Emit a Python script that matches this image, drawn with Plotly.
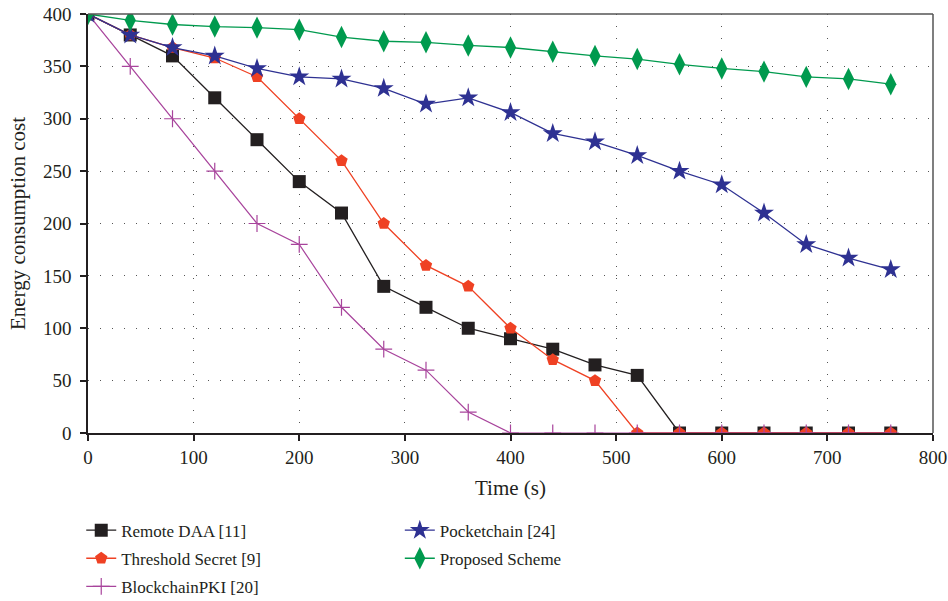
import plotly.graph_objects as go

time_s = [0, 40, 80, 120, 160, 200, 240, 280, 320, 360, 400, 440, 480, 520, 560, 600, 640, 680, 720, 760]

remote_daa = [400, 380, 360, 320, 280, 240, 210, 140, 120, 100, 90, 80, 65, 55, 0, 0, 0, 0, 0, 0]
threshold_secret = [400, 380, 368, 358, 340, 300, 260, 200, 160, 140, 100, 70, 50, 0, 0, 0, 0, 0, 0, 0]
blockchain_pki = [400, 350, 300, 250, 200, 180, 120, 80, 60, 20, 0, 0, 0, 0, 0, 0, 0, 0, 0, 0]
pocketchain = [400, 380, 368, 360, 348, 340, 338, 329, 314, 320, 306, 286, 278, 265, 250, 237, 210, 180, 167, 156]
proposed = [400, 394, 390, 388, 387, 385, 378, 374, 373, 370, 368, 364, 360, 357, 352, 348, 345, 340, 338, 333]

x_ticks = [0, 100, 200, 300, 400, 500, 600, 700, 800]
y_ticks = [0, 50, 100, 150, 200, 250, 300, 350, 400]

FONT = "Liberation Serif"
INK = "#231f20"

fig = go.Figure()

def add(name, y, color, symbol, size, legend, lw=1.3, mlw=0):
    fig.add_trace(go.Scatter(
        x=time_s, y=y, name=name, mode="lines+markers",
        line=dict(color=color, width=lw),
        marker=dict(symbol=symbol, size=size, color=color,
                    line=dict(color=color, width=mlw)),
        legend=legend, legendgroup=name,
    ))

add("Remote DAA [11]", remote_daa, INK, "square", 13, "legend")
add("Threshold Secret [9]", threshold_secret, "#ef4123", "pentagon", 13, "legend")
add("BlockchainPKI [20]", blockchain_pki, "#a8449c", "cross-thin", 12, "legend", lw=1.2, mlw=1.2)
add("Pocketchain [24]", pocketchain, "#2e3192", "star", 15, "legend2")
add("Proposed Scheme", proposed, "#009a4e", "diamond-tall", 16, "legend2")

axis_common = dict(
    showline=True, linecolor=INK, linewidth=1.5, mirror=False,
    ticks="outside", ticklen=6, tickcolor=INK, tickwidth=1.5,
    showgrid=True, gridcolor="#555555", gridwidth=1, griddash="1px,11px",
    zeroline=False, tickfont=dict(family=FONT, size=19, color=INK),
    automargin=False,
)

fig.update_xaxes(range=[0, 800], tickvals=x_ticks,
                 title=dict(text="Time (s)", font=dict(family=FONT, size=21, color=INK), standoff=14),
                 **axis_common)
fig.update_yaxes(range=[0, 400], tickvals=y_ticks, ticklabelstandoff=5,
                 title=dict(text="Energy consumption cost", font=dict(family=FONT, size=21, color=INK), standoff=12),
                 **axis_common)

# frame on top and right (lighter, as in the reference)
fig.add_shape(type="line", xref="paper", yref="paper", x0=0, x1=1, y0=1, y1=1,
              line=dict(color="#555555", width=1.5), layer="above")
fig.add_shape(type="line", xref="paper", yref="paper", x0=1, x1=1, y0=0, y1=1,
              line=dict(color="#555555", width=1.5), layer="above")

legend_common = dict(
    orientation="v", xanchor="left", yanchor="top",
    font=dict(family=FONT, size=17, color=INK),
    bgcolor="rgba(0,0,0,0)", itemwidth=30, tracegroupgap=3,
)

fig.update_layout(
    width=948, height=601,
    margin=dict(l=88, r=15, t=14, b=168, autoexpand=False),
    plot_bgcolor="white", paper_bgcolor="white",
    font=dict(family=FONT, color=INK),
    legend=dict(x=-0.008, y=-0.19, **legend_common),
    legend2=dict(x=0.369, y=-0.19, **legend_common),
)

# remove the page's default body margin so the figure sits at the window's corner
fig.write_html("out.html", config={"displayModeBar": False},
               post_script="document.body.style.margin='0px';")
